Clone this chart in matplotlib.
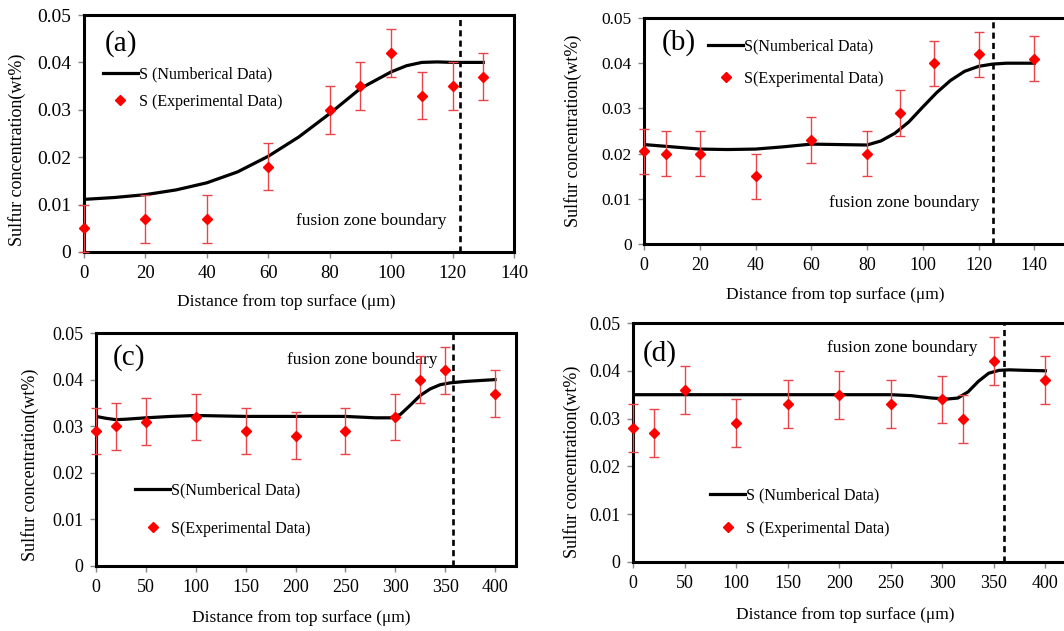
import matplotlib
matplotlib.use("Agg")
import matplotlib.pyplot as plt
import numpy as np

plt.rcParams['font.family'] = ['Liberation Serif', 'DejaVu Serif']
plt.rcParams['mathtext.fontset'] = 'stix'

# ---------------- data ----------------
# (a)
a_num_x = [0, 10, 20, 30, 40, 50, 60, 70, 80, 90, 100, 105, 110, 115, 120, 130]
a_num_y = [0.0111, 0.0115, 0.0121, 0.0131, 0.0146, 0.0169, 0.0202, 0.0243, 0.0292,
           0.0345, 0.0380, 0.0393, 0.0400, 0.0401, 0.0400, 0.0400]
a_exp_x = [0, 20, 40, 60, 80, 90, 100, 110, 120, 130]
a_exp_y = [0.005, 0.007, 0.007, 0.018, 0.030, 0.035, 0.042, 0.033, 0.035, 0.037]
a_err = [0.005] * 10
a_boundary = 122.4

# (b)
b_num_x = [0, 10, 20, 30, 40, 50, 60, 70, 80, 85, 90, 95, 100, 105, 110, 115, 120, 125, 130, 140]
b_num_y = [0.0220, 0.0215, 0.0210, 0.0209, 0.0210, 0.0215, 0.0221, 0.0220, 0.0219, 0.0228,
           0.0245, 0.0270, 0.0303, 0.0335, 0.0362, 0.0382, 0.0393, 0.0398, 0.0400, 0.0400]
b_exp_x = [0, 8, 20, 40, 60, 80, 92, 104, 120, 140]
b_exp_y = [0.0205, 0.020, 0.020, 0.015, 0.023, 0.020, 0.029, 0.040, 0.042, 0.041]
b_err = [0.005] * 10
b_boundary = 125.3

# (c)
c_num_x = [0, 10, 20, 30, 50, 75, 100, 150, 200, 250, 280, 295, 305, 315, 325, 335, 345, 355, 370, 385, 400]
c_num_y = [0.0321, 0.0317, 0.0314, 0.0315, 0.0318, 0.0321, 0.0323, 0.0321, 0.0321, 0.0321, 0.0318,
           0.0318, 0.0325, 0.0345, 0.0366, 0.0380, 0.0389, 0.0393, 0.0396, 0.0398, 0.0400]
c_exp_x = [0, 20, 50, 100, 150, 200, 250, 300, 325, 350, 400]
c_exp_y = [0.029, 0.030, 0.031, 0.032, 0.029, 0.028, 0.029, 0.032, 0.040, 0.042, 0.037]
c_err = [0.005] * 11
c_boundary = 357.8

# (d)
d_num_x = [0, 50, 100, 150, 200, 250, 270, 290, 305, 315, 325, 335, 345, 355, 365, 380, 400]
d_num_y = [0.0350, 0.0350, 0.0350, 0.0350, 0.0350, 0.0350, 0.0348, 0.0343, 0.0341, 0.0343,
           0.0356, 0.0378, 0.0395, 0.0401, 0.0402, 0.0401, 0.0400]
d_exp_x = [0, 20, 50, 100, 150, 200, 250, 300, 320, 350, 400]
d_exp_y = [0.028, 0.027, 0.036, 0.029, 0.033, 0.035, 0.033, 0.034, 0.030, 0.042, 0.038]
d_err = [0.005] * 11
d_boundary = 360.0

y_ticks = [0, 0.01, 0.02, 0.03, 0.04, 0.05]
y_tick_labels = ['0', '0.01', '0.02', '0.03', '0.04', '0.05']

panels = [
    dict(tag='(a)', pos=[84, 15, 514, 252], xlim=(0, 140), xticks=list(range(0, 141, 20)),
         nx=a_num_x, ny=a_num_y, ex=a_exp_x, ey=a_exp_y, err=a_err, bnd=a_boundary,
         num_label='S (Numberical Data)', exp_label='S (Experimental Data)',
         leg_xy=(0.044, 0.783), leg_sp=0.72,
         txt_xy=(118, 0.0065), tag_xy=(0.049, 0.88),
         ylab_xy=(-0.156, 0.43), xlab_xy=(0.47, -0.211), yts=14, xts=13.5),
    dict(tag='(b)', pos=[644, 18, 1090, 244], xlim=(0, 160), xticks=list(range(0, 141, 20)),
         nx=b_num_x, ny=b_num_y, ex=b_exp_x, ey=b_exp_y, err=b_err, bnd=b_boundary,
         num_label='S(Numberical Data)', exp_label='S(Experimental Data)',
         leg_xy=(0.1435, 0.909), leg_sp=1.03,
         txt_xy=(120.3, 0.0091), tag_xy=(0.04, 0.89),
         ylab_xy=(-0.159, 0.5), xlab_xy=(0.428, -0.226), yts=12.5, xts=13),
    dict(tag='(c)', pos=[96, 333, 516, 566], xlim=(0, 421), xticks=list(range(0, 401, 50)),
         nx=c_num_x, ny=c_num_y, ex=c_exp_x, ey=c_exp_y, err=c_err, bnd=c_boundary,
         num_label='S(Numberical Data)', exp_label='S(Experimental Data)',
         leg_xy=(0.093, 0.358), leg_sp=1.4,
         txt_xy=(342, 0.0443), tag_xy=(0.04, 0.893),
         ylab_xy=(-0.157, 0.433), xlab_xy=(0.488, -0.223), yts=13, xts=13),
    dict(tag='(d)', pos=[633, 323, 1097, 562], xlim=(0, 450), xticks=list(range(0, 401, 50)),
         nx=d_num_x, ny=d_num_y, ex=d_exp_x, ey=d_exp_y, err=d_err, bnd=d_boundary,
         num_label='S (Numberical Data)', exp_label='S (Experimental Data)',
         leg_xy=(0.166, 0.312), leg_sp=1.1,
         txt_xy=(334, 0.0448), tag_xy=(0.022, 0.874),
         ylab_xy=(-0.131, 0.418), xlab_xy=(0.457, -0.222), yts=13, xts=13),
]

W, H = 1064, 631
fig = plt.figure(figsize=(W / 100, H / 100), dpi=100)

red = '#ff0000'
err_red = '#e8454a'

for p in panels:
    l, t, r, b = p['pos']
    ax = fig.add_axes([l / W, (H - b) / H, (r - l) / W, (b - t) / H])
    ax.set_xlim(*p['xlim'])
    ax.set_ylim(0, 0.05)
    ax.set_xticks(p['xticks'])
    ax.set_xticklabels([str(v) for v in p['xticks']], fontsize=p['xts'])
    ax.set_yticks(y_ticks)
    ax.set_yticklabels(y_tick_labels, fontsize=p['yts'])
    ax.tick_params(direction='out', length=4, width=1, color='#888888', pad=5)
    for s in ax.spines.values():
        s.set_linewidth(2.2)
        s.set_color('black')

    line, = ax.plot(p['nx'], p['ny'], color='black', lw=2.3, zorder=3,
                    label=p['num_label'])
    ax.errorbar(p['ex'], p['ey'], yerr=p['err'], fmt='none', ecolor=err_red,
                elinewidth=1.0, capsize=3.5, capthick=1.0, zorder=4, clip_on=False)
    pts, = ax.plot(p['ex'], p['ey'], linestyle='none', marker='D', markersize=5.6,
                   color=red, markeredgecolor=red, zorder=5, clip_on=False,
                   label=p['exp_label'])
    ax.axvline(p['bnd'], color='black', lw=1.9, linestyle=(0, (2.3, 1.6)), zorder=2)

    ax.text(p['txt_xy'][0], p['txt_xy'][1], 'fusion zone boundary', ha='right',
            va='center', fontsize=12.5)
    ax.text(p['tag_xy'][0], p['tag_xy'][1], p['tag'], transform=ax.transAxes,
            ha='left', va='center', fontsize=21)

    leg = ax.legend(handles=[line, pts], loc='upper left',
                    bbox_to_anchor=p['leg_xy'], frameon=False, borderpad=0,
                    borderaxespad=0, handlelength=2.2, handletextpad=0.05,
                    labelspacing=p['leg_sp'], fontsize=11.5, numpoints=1)

    ax.set_xlabel('Distance from top surface (μm)', fontsize=12.5)
    ax.set_ylabel('Sulfur concentration(wt%)', fontsize=13)
    ax.xaxis.set_label_coords(*p['xlab_xy'])
    ax.yaxis.set_label_coords(*p['ylab_xy'])
    ax.xaxis.label.set_verticalalignment('center')
    ax.yaxis.label.set_verticalalignment('center')

fig.savefig('out.png', dpi=100)
